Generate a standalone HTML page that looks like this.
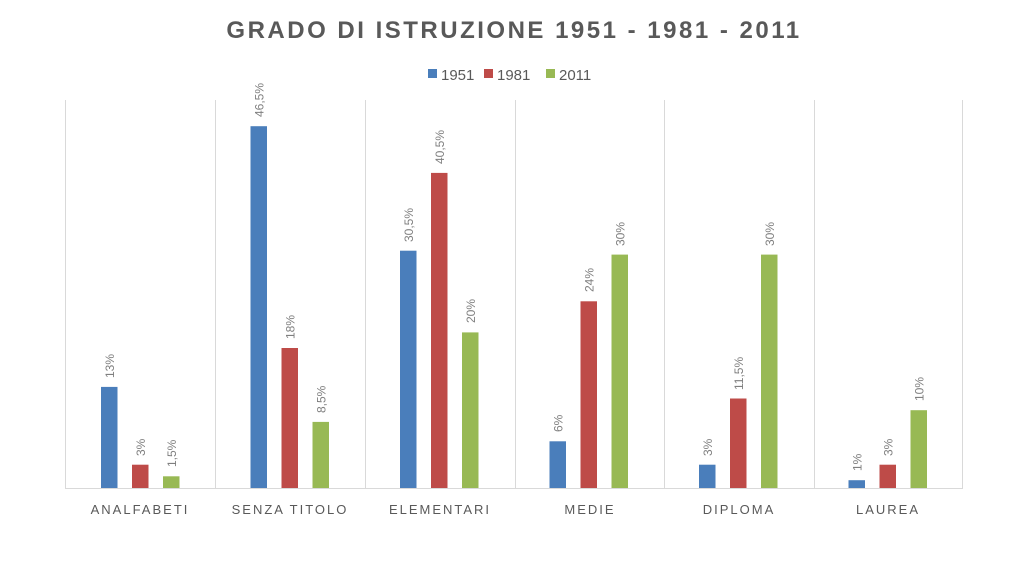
<!DOCTYPE html>
<html><head><meta charset="utf-8"><style>
html,body{margin:0;padding:0;background:#fff;}
svg{display:block;font-family:"Liberation Sans",sans-serif;}
</style></head><body>
<svg width="1024" height="576" viewBox="0 0 1024 576">
<text x="514" y="38" text-anchor="middle" font-size="24" font-weight="bold" fill="#595959" letter-spacing="2.5">GRADO DI ISTRUZIONE 1951 - 1981 - 2011</text>
<rect x="428" y="69" width="9" height="9" fill="#4a7ebb"/><text x="441" y="80" font-size="15" fill="#595959">1951</text>
<rect x="484" y="69" width="9" height="9" fill="#be4b48"/><text x="497" y="80" font-size="15" fill="#595959">1981</text>
<rect x="546" y="69" width="9" height="9" fill="#98b954"/><text x="559" y="80" font-size="15" fill="#595959">2011</text>
<g stroke="#d9d9d9" stroke-width="1">
<line x1="65.5" y1="100" x2="65.5" y2="489"/><line x1="215.5" y1="100" x2="215.5" y2="489"/><line x1="365.5" y1="100" x2="365.5" y2="489"/><line x1="515.5" y1="100" x2="515.5" y2="489"/><line x1="664.5" y1="100" x2="664.5" y2="489"/><line x1="814.5" y1="100" x2="814.5" y2="489"/><line x1="962.5" y1="100" x2="962.5" y2="489"/>
<line x1="65" y1="488.5" x2="963" y2="488.5"/>
</g>
<g>
<rect x="101" y="386.9" width="16.5" height="101.1" fill="#4a7ebb"/>
<rect x="132" y="464.7" width="16.5" height="23.3" fill="#be4b48"/>
<rect x="163" y="476.3" width="16.5" height="11.7" fill="#98b954"/>
<rect x="250.5" y="126.2" width="16.5" height="361.8" fill="#4a7ebb"/>
<rect x="281.5" y="348" width="16.5" height="140" fill="#be4b48"/>
<rect x="312.5" y="421.9" width="16.5" height="66.1" fill="#98b954"/>
<rect x="400" y="250.7" width="16.5" height="237.3" fill="#4a7ebb"/>
<rect x="431" y="172.9" width="16.5" height="315.1" fill="#be4b48"/>
<rect x="462" y="332.4" width="16.5" height="155.6" fill="#98b954"/>
<rect x="549.5" y="441.3" width="16.5" height="46.7" fill="#4a7ebb"/>
<rect x="580.5" y="301.3" width="16.5" height="186.7" fill="#be4b48"/>
<rect x="611.5" y="254.6" width="16.5" height="233.4" fill="#98b954"/>
<rect x="699" y="464.7" width="16.5" height="23.3" fill="#4a7ebb"/>
<rect x="730" y="398.5" width="16.5" height="89.5" fill="#be4b48"/>
<rect x="761" y="254.6" width="16.5" height="233.4" fill="#98b954"/>
<rect x="848.5" y="480.2" width="16.5" height="7.8" fill="#4a7ebb"/>
<rect x="879.5" y="464.7" width="16.5" height="23.3" fill="#be4b48"/>
<rect x="910.5" y="410.2" width="16.5" height="77.8" fill="#98b954"/>
</g>
<g font-size="12" fill="#7f7f7f">
<text transform="translate(114,378) rotate(-90)">13%</text>
<text transform="translate(145,456) rotate(-90)">3%</text>
<text transform="translate(176,467) rotate(-90)">1,5%</text>
<text transform="translate(263.5,117) rotate(-90)">46,5%</text>
<text transform="translate(294.5,339) rotate(-90)">18%</text>
<text transform="translate(325.5,413) rotate(-90)">8,5%</text>
<text transform="translate(413,242) rotate(-90)">30,5%</text>
<text transform="translate(444,164) rotate(-90)">40,5%</text>
<text transform="translate(475,323) rotate(-90)">20%</text>
<text transform="translate(562.5,432) rotate(-90)">6%</text>
<text transform="translate(593.5,292) rotate(-90)">24%</text>
<text transform="translate(624.5,246) rotate(-90)">30%</text>
<text transform="translate(712,456) rotate(-90)">3%</text>
<text transform="translate(743,390) rotate(-90)">11,5%</text>
<text transform="translate(774,246) rotate(-90)">30%</text>
<text transform="translate(861.5,471) rotate(-90)">1%</text>
<text transform="translate(892.5,456) rotate(-90)">3%</text>
<text transform="translate(923.5,401) rotate(-90)">10%</text>
</g>
<g font-size="13" fill="#595959" letter-spacing="2" text-anchor="middle">
<text x="140" y="514">ANALFABETI</text><text x="290" y="514">SENZA TITOLO</text><text x="440" y="514">ELEMENTARI</text><text x="590" y="514">MEDIE</text><text x="739" y="514">DIPLOMA</text><text x="888" y="514">LAUREA</text>
</g>
</svg>
</body></html>
